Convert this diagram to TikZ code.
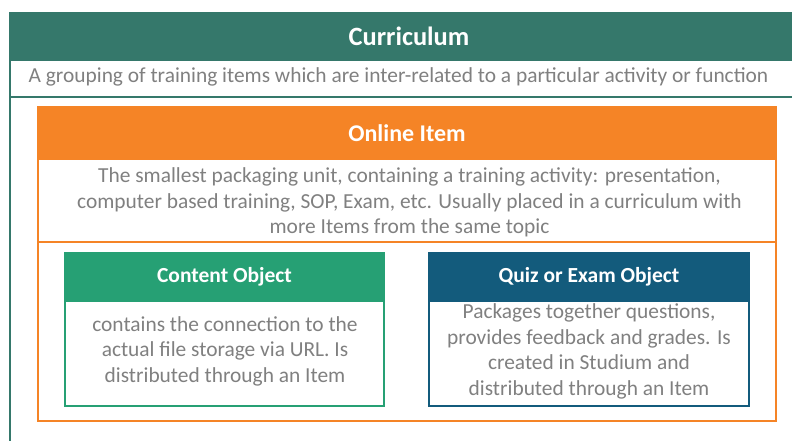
\documentclass[tikz,border=0pt]{standalone}
\usepackage{fontspec}
\setmainfont{Carlito}
\usetikzlibrary{positioning}

\definecolor{vertCur}{HTML}{35786B}
\definecolor{orangeItem}{HTML}{F58426}
\definecolor{vertObj}{HTML}{26A074}
\definecolor{bleuQuiz}{HTML}{135B7C}
\definecolor{grisTexte}{HTML}{808080}

\tikzset{Cadre/.style={draw=#1,line width=2pt,fill=white,rectangle,inner sep=0pt,outer sep=0pt,anchor=north west}}
\tikzset{Tete/.style={draw=#1,fill=#1,line width=2pt,rectangle,inner sep=0pt,outer sep=0pt,anchor=north west,text=white,font=\bfseries\fontsize{24}{28}\selectfont}}
\tikzset{Texte/.style={rectangle,inner sep=0pt,outer sep=0pt,align=center,text=grisTexte,font=\fontsize{21.4}{25.5}\selectfont}}

\begin{document}
\begin{tikzpicture}[x=1pt,y=-1pt]
\useasboundingbox (0,0) rectangle (792,441);
\clip (0,0) rectangle (792,441);

% Curriculum
\node[Cadre=vertCur,minimum width=798pt,minimum height=460pt] (Cur) at (10,13) {};
\node[Tete=vertCur,minimum width=798pt,minimum height=47pt,font=\bfseries\fontsize{26.4}{30}\selectfont] (CurTete) at (10,13) {Curriculum};
\node[Cadre=vertCur,minimum width=798pt,minimum height=37pt] (CurDesc) at (10,60) {};
\node[Texte] (CurTexte) at (398.5,76.5) {A grouping of training items which are inter-related to a particular activity or function};

% Online Item
\node[Cadre=orangeItem,minimum width=738pt,minimum height=314pt] (Item) at (38,107) {};
\node[Tete=orangeItem,minimum width=738pt,minimum height=52pt] (ItemTete) at (38,107) {Online Item};
\node[Cadre=orangeItem,minimum width=738pt,minimum height=83pt] (ItemDesc) at (38,159) {};
\node[Texte] (ItemTexte) at (409.5,202.5) {The smallest packaging unit, containing a training activity: presentation,\\computer based training, SOP, Exam, etc. Usually placed in a curriculum with\\more Items from the same topic};

% objets
\node[Cadre=vertObj,minimum width=319pt,minimum height=153pt] (Contenu) at (65,253) {};
\node[Tete=vertObj,minimum width=319pt,minimum height=48pt,font=\bfseries\fontsize{21.5}{25}\selectfont] (ContenuTete) at (65,253) {Content Object};
\node[Texte] (ContenuTexte) at (225,351) {contains the connection to the\\actual file storage via URL. Is\\distributed through an Item};

\node[Cadre=bleuQuiz,minimum width=320pt,minimum height=153pt] (Quiz) at (429,253) {};
\node[Tete=bleuQuiz,minimum width=320pt,minimum height=48pt,font=\bfseries\fontsize{21.5}{25}\selectfont] (QuizTete) at (429,253) {Quiz or Exam Object};
\node[Texte] (QuizTexte) at (589,351.5) {Packages together questions,\\provides feedback and grades. Is\\created in Studium and\\distributed through an Item};

\end{tikzpicture}
\end{document}
